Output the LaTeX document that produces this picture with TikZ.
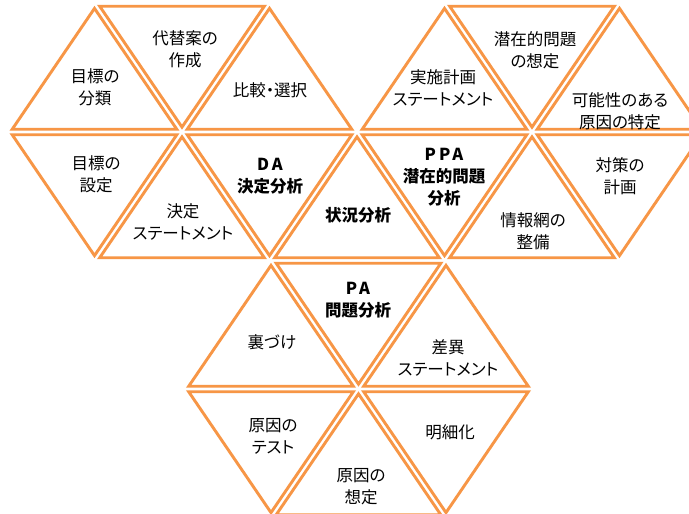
\documentclass[tikz,border=0pt]{standalone}
\usepackage{fontspec}
\newfontfamily\jp[RawFeature=+palt]{Noto Sans CJK JP}
\definecolor{triorange}{HTML}{F79646}
\newcommand{\wideab}[1]{{\addfontfeature{LetterSpace=18}#1}}
\tikzset{
  tri/.style={draw=triorange, line width=2.9pt, line join=miter},
  lbl/.style={font=\jp\fontsize{16.5}{22}\selectfont, align=center, inner sep=0pt, text=black},
  blbl/.style={lbl, font=\jp\bfseries\fontsize{16.5}{22}\selectfont},
}
% up triangle: apex x, apex (lattice) y
\newcommand{\uptri}[2]{%
  \begin{scope}[shift={(#1,#2+82.0)}, scale=0.9405]
    \draw[tri] (0,-82.0) -- (87.5,46.5) -- (-87.5,46.5) -- cycle;
  \end{scope}}
% down triangle: apex x, top (lattice) y
\newcommand{\dntri}[2]{%
  \begin{scope}[shift={(#1,#2+46.5)}, scale=0.9405]
    \draw[tri] (-87.5,-46.5) -- (87.5,-46.5) -- (0,82.0) -- cycle;
  \end{scope}}
\begin{document}
\begin{tikzpicture}[x=1pt,y=-1pt]
  \useasboundingbox (0,0) rectangle (689,514);
  \fill[white] (0,0) rectangle (689,514);
  \clip (0,0) rectangle (689,514);
  % band 1 (rows 3.5 - 132)
  \uptri{94.5}{3.5}
  \dntri{182}{3.5}
  \uptri{269.5}{3.5}
  \uptri{444.5}{3.5}
  \dntri{532}{3.5}
  \uptri{619.5}{3.5}
  % band 2 (rows 132 - 260.5)
  \dntri{94.5}{132}
  \uptri{182}{132}
  \dntri{269.5}{132}
  \uptri{357}{132}
  \dntri{444.5}{132}
  \uptri{532}{132}
  \dntri{619.5}{132}
  % band 3 (rows 260.5 - 389)
  \uptri{271}{260.5}
  \dntri{358.5}{260.5}
  \uptri{446}{260.5}
  % band 4 (rows 389 - 517.5)
  \dntri{271}{389}
  \uptri{358.5}{389}
  \dntri{446}{389}
  % labels
  \node[lbl]  (bunrui)   at (95,87)   {目標の\\分類};
  \node[lbl]  (daitai)   at (185,49)  {代替案の\\作成};
  \node[lbl]  (hikaku)   at (270,90)  {比較・選択};
  \node[lbl]  (settei)   at (96,174)  {目標の\\設定};
  \node[lbl]  (kettei)   at (183,222) {決定\\ステートメント};
  \node[blbl] (da)       at (270,176) {\wideab{DA}\\決定分析};
  \node[blbl] (jokyo)    at (358,215) {状況分析};
  \node[lbl]  (jisshi)   at (443,88)  {実施計画\\ステートメント};
  \node[lbl]  (senzai)   at (535,50)  {潜在的問題\\の想定};
  \node[lbl]  (kanou)    at (620,111) {可能性のある\\原因の特定};
  \node[blbl] (ppa)      at (444,177) {\wideab{PPA}\\潜在的問題\\分析};
  \node[lbl]  (joho)     at (533,231) {情報網の\\整備};
  \node[lbl]  (taisaku)  at (620,176) {対策の\\計画};
  \node[blbl] (pa)       at (358,300) {\wideab{PA}\\問題分析};
  \node[lbl]  (urazuke)  at (272,342) {裏づけ};
  \node[lbl]  (sai)      at (448,358) {差異\\ステートメント};
  \node[lbl]  (test)     at (273,436) {原因の\\テスト};
  \node[lbl]  (meisai)   at (450,432) {明細化};
  \node[lbl]  (soutei)   at (361,487) {原因の\\想定};
\end{tikzpicture}
\end{document}
